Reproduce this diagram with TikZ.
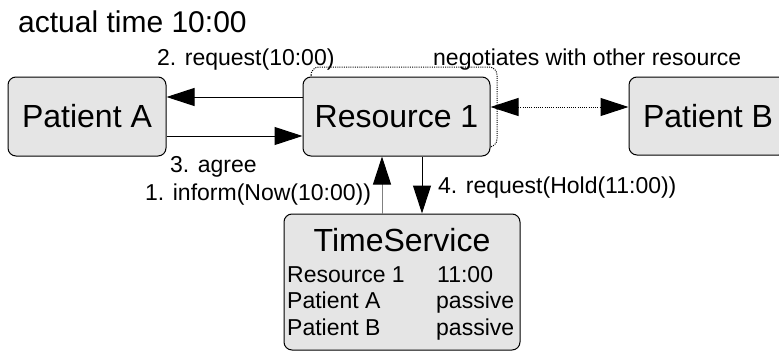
\documentclass[tikz,border=0pt]{standalone}
\usepackage{fontspec}
\setmainfont{Liberation Sans}
\usetikzlibrary{arrows.meta}
\tikzset{
  box/.style={draw=black, line width=1pt, fill=gray!20, rounded corners=8pt, inner sep=0pt, font=\fontsize{32}{38}\selectfont},
  lbl/.style={inner sep=0pt, anchor=base west, font=\fontsize{23}{27}\selectfont},
  dots/.style={line width=1pt, dash pattern=on 1pt off 1.2pt},
  arr/.style={line width=1pt, -{Triangle[length=28pt,width=18pt,color=black]}},
  darr/.style={dots, {Triangle[length=28pt,width=18pt,color=black]}-{Triangle[length=28pt,width=18pt,color=black]}}
}
\begin{document}
\begin{tikzpicture}[x=1pt,y=-1pt]
\useasboundingbox (0,0) rectangle (779,351);
% dotted outline behind Resource 1
\draw[dots, rounded corners=8pt] (311,67) rectangle (497,147);
\node[box, minimum width=158pt, minimum height=79pt] (pa) at (87,116.5) {Patient A};
\node[box, minimum width=187pt, minimum height=79pt] (res) at (396.5,116.5) {Resource 1};
\node[box, minimum width=158pt, minimum height=78pt] (pb) at (708,116) {Patient B};
\node[box, minimum width=236pt, minimum height=136pt] (ts) at (402,282) {};
\node[inner sep=0pt, anchor=base, font=\fontsize{32}{38}\selectfont] (tst) at (402,251) {TimeService};
\node[lbl] (r1) at (287,282) {Resource 1};
\node[lbl] (r1v) at (437,282) {11:00};
\node[lbl] (r2) at (287,308) {Patient A};
\node[lbl] (r2v) at (436,308) {passive};
\node[lbl] (r3) at (287,335) {Patient B};
\node[lbl] (r3v) at (436,335) {passive};
% labels
\node[inner sep=0pt, anchor=base west, font=\fontsize{30}{36}\selectfont] (title) at (18,32) {actual time 10:00};
\node[lbl] (l2) at (157,65) {2. request(10:00)};
\node[lbl] (lneg) at (433,65) {negotiates with other resource};
\node[lbl] (l3) at (170,172) {3. agree};
\node[lbl] (l1) at (145,200) {1. inform(Now(10:00))};
\node[lbl] (l4) at (438,193) {4. request(Hold(11:00))};
% connectors
\draw[arr] ([yshift=19.5pt]res.west) -- ([yshift=19.5pt]res.west -| pa.east);
\draw[arr] ([yshift=-19.5pt]pa.east) -- ([yshift=-19.5pt]pa.east -| res.west);
\draw[darr] ([yshift=9.5pt]res.east) -- ([yshift=9.5pt]res.east -| pb.west);
\draw[arr, draw=gray] ([xshift=-20pt]ts.north) -- ([xshift=-20pt]ts.north |- res.south);
\draw[arr] ([xshift=20pt]ts.north |- res.south) -- ([xshift=20pt]ts.north);
\end{tikzpicture}
\end{document}
